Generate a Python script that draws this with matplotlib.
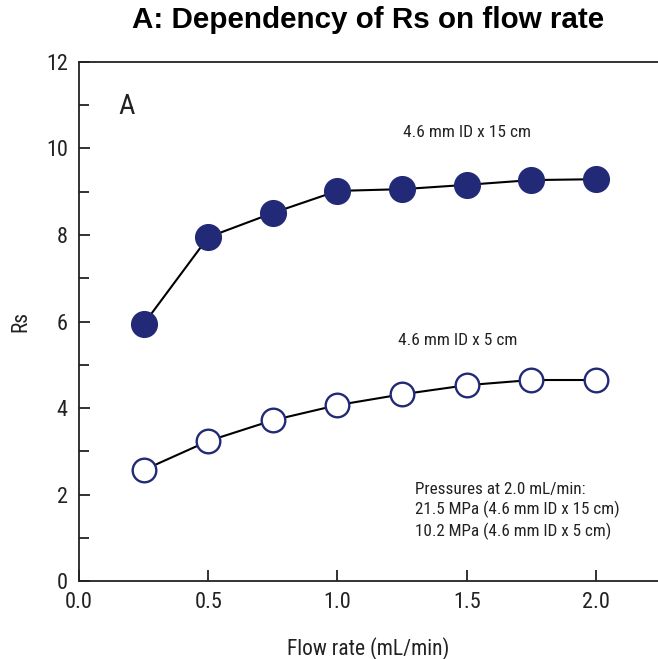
import matplotlib
matplotlib.use("Agg")
import matplotlib.pyplot as plt
from matplotlib.ticker import MultipleLocator

# Rs against flow rate for two column lengths
flow_rate = [0.25, 0.5, 0.75, 1.0, 1.25, 1.5, 1.75, 2.0]
rs_15cm = [5.94, 7.95, 8.51, 9.02, 9.06, 9.16, 9.27, 9.29]
rs_5cm = [2.57, 3.24, 3.72, 4.07, 4.32, 4.53, 4.65, 4.65]

x_ticks = [0.0, 0.5, 1.0, 1.5, 2.0]
y_ticks = [0, 2, 4, 6, 8, 10, 12]

navy = "#222a78"
ink = "#222222"
narrow = ["Roboto Condensed", "DejaVu Sans"]

fig = plt.figure(figsize=(6.58, 6.59), dpi=100)
ax = fig.add_axes([0.120, 0.118, 0.880, 0.788])

ax.plot(flow_rate, rs_15cm, color="black", linewidth=1.5, zorder=2)
ax.plot(flow_rate, rs_15cm, linestyle="none", marker="o", markersize=18.5,
        markerfacecolor=navy, markeredgecolor=navy, zorder=3)
ax.plot(flow_rate, rs_5cm, color="black", linewidth=1.5, zorder=2)
ax.plot(flow_rate, rs_5cm, linestyle="none", marker="o", markersize=17,
        markerfacecolor="white", markeredgecolor=navy, markeredgewidth=1.7,
        zorder=3)

ax.set_xlim(0, 2.24)
ax.set_ylim(0, 12)
ax.set_xticks(x_ticks)
ax.set_xticklabels([f"{v:.1f}" for v in x_ticks])
ax.set_yticks(y_ticks)
ax.yaxis.set_minor_locator(MultipleLocator(1))

ax.spines["right"].set_visible(False)
for side in ("left", "bottom", "top"):
    ax.spines[side].set_linewidth(1.3)
    ax.spines[side].set_color(ink)

ax.tick_params(axis="both", which="major", direction="in", length=8,
               width=1.3, color=ink, labelsize=16, pad=8)
ax.tick_params(axis="y", which="minor", direction="in", length=7,
               width=1.3, color=ink)
for lbl in ax.get_xticklabels() + ax.get_yticklabels():
    lbl.set_family(narrow)
    lbl.set_color(ink)

ax.set_xlabel("Flow rate (mL/min)", family=narrow, fontsize=15.5, color=ink)
ax.xaxis.set_label_coords(0.5, -0.108)
ax.set_ylabel("Rs", family=narrow, fontsize=15.5, color=ink)
ax.yaxis.set_label_coords(-0.082, 0.5)

ax.text(0.184, 10.96, "A", family=narrow, fontsize=20.5, color=ink,
        ha="center", va="center")
ax.text(1.50, 10.36, "4.6 mm ID x 15 cm", family=narrow, fontsize=12.5,
        color=ink, ha="center", va="center")
ax.text(1.465, 5.57, "4.6 mm ID x 5 cm", family=narrow, fontsize=12.5,
        color=ink, ha="center", va="center")
ax.text(1.30, 2.29,
        "Pressures at 2.0 mL/min:\n21.5 MPa (4.6 mm ID x 15 cm)\n"
        "10.2 MPa (4.6 mm ID x 5 cm)",
        family=narrow, fontsize=12.3, color=ink, ha="left",
        va="top", linespacing=1.3)

fig.text(0.559, 0.970, "A: Dependency of Rs on flow rate", ha="center",
         va="center", fontsize=21.3, fontweight="bold",
         family="Liberation Sans")

fig.savefig("out.png", dpi=100)
